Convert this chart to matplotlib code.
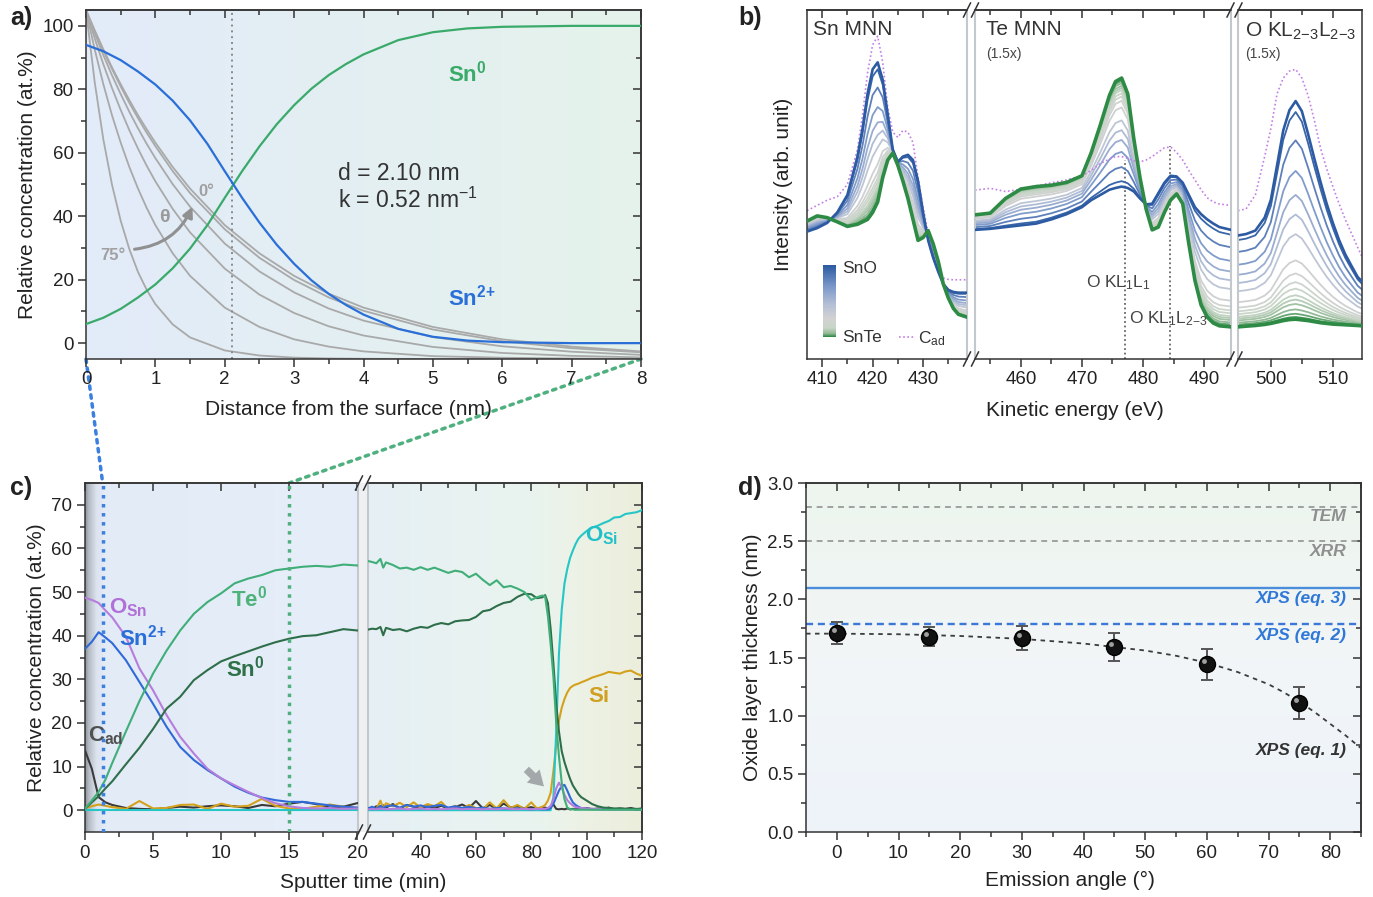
import numpy as np
import matplotlib
matplotlib.use('Agg')
import matplotlib.pyplot as plt
from matplotlib.colors import LinearSegmentedColormap, to_rgb
from matplotlib.patches import ConnectionPatch, Rectangle
from matplotlib.lines import Line2D
from matplotlib import transforms

plt.rcParams['font.family'] = ['Liberation Sans', 'DejaVu Sans']
plt.rcParams['mathtext.fontset'] = 'custom'
plt.rcParams['mathtext.rm'] = 'Liberation Sans'
plt.rcParams['mathtext.it'] = 'Liberation Sans:italic'
plt.rcParams['mathtext.bf'] = 'Liberation Sans:bold'
plt.rcParams['axes.edgecolor'] = '#333333'
plt.rcParams['axes.linewidth'] = 1.1
plt.rcParams['xtick.color'] = '#333333'
plt.rcParams['ytick.color'] = '#333333'
plt.rcParams['xtick.labelcolor'] = '#222222'
plt.rcParams['ytick.labelcolor'] = '#222222'
plt.rcParams['xtick.labelsize'] = 13.5
plt.rcParams['ytick.labelsize'] = 13.5
plt.rcParams['axes.labelsize'] = 15
plt.rcParams['axes.labelcolor'] = '#222222'

# ---------------- panel a: depth profiles ----------------
depth = [0, 0.125, 0.25, 0.375, 0.5, 0.625, 0.75, 0.875, 1, 1.25, 1.5, 2, 2.5, 3, 3.5, 4, 5, 6, 7, 8]
prof_0 = [105, 98.6, 92.6, 86.9, 81.6, 76.6, 71.8, 67.4, 63.2, 55.5, 48.7, 37.2, 28.3, 21.2, 15.6, 11.2, 5.1, 1.2, -1.1, -2.6]
prof_15 = [105, 98.4, 92.2, 86.4, 80.9, 75.7, 70.9, 66.3, 62.1, 54.2, 47.3, 35.9, 26.9, 19.9, 14.4, 10.2, 4.3, 0.6, -1.6, -2.9]
prof_30 = [105, 97.7, 90.8, 84.4, 78.5, 72.9, 67.7, 62.8, 58.3, 50.1, 43.0, 31.4, 22.6, 16.0, 10.9, 7.1, 1.9, -1.0, -2.7, -3.7]
prof_45 = [105, 96.1, 87.9, 80.4, 73.5, 67.1, 61.3, 55.9, 51.0, 42.3, 34.9, 23.5, 15.3, 9.5, 5.3, 2.4, -1.2, -3.1, -4.0, -4.5]
prof_60 = [105, 92.6, 81.6, 71.8, 63.2, 55.5, 48.7, 42.6, 37.2, 28.3, 21.2, 11.2, 5.1, 1.2, -1.1, -2.6, -4.1, -4.6, -4.85, -4.95]
prof_75 = [105, 82.3, 64.2, 49.9, 38.6, 29.6, 22.4, 16.8, 12.3, 5.9, 1.8, -2.3, -3.9, -4.57, -4.83, -4.93, -5.0, -5.0, -5.0, -5.0]

depth_sn = [0, 0.25, 0.5, 0.75, 1, 1.25, 1.5, 1.75, 2, 2.25, 2.5, 2.75, 3, 3.25, 3.5, 3.75, 4, 4.5, 5, 5.5, 6, 7, 8]
sn2_a = [94.0, 92.0, 89.2, 85.6, 81.5, 76.4, 70.2, 62.8, 54.2, 45.8, 38.0, 31.0, 25.0, 19.8, 15.5, 12.0, 9.0, 4.5, 2.0, 0.8, 0.3, 0.0, 0.0]
sn0_a = [6.0, 8.0, 10.8, 14.4, 18.5, 23.6, 29.8, 37.2, 45.8, 54.2, 62.0, 69.0, 75.0, 80.2, 84.5, 88.0, 91.0, 95.5, 98.0, 99.2, 99.7, 100.0, 100.0]
d_oxide = 2.10

# ---------------- panel b: Auger spectra ----------------
e_sn = [407, 409, 411, 413, 415, 417, 418, 419, 420, 421, 422, 423, 424, 425, 426, 427, 428, 429, 430, 431, 432, 433, 434, 435, 436, 437, 438.7]
sno_sn = [36.5, 37.5, 39, 42, 47, 58, 66, 76, 83, 85, 80, 70, 60, 56.5, 58, 58.5, 57, 51, 42, 34, 29, 25, 21.5, 19.8, 19.2, 19, 19]
snte_sn = [39.5, 41, 40.5, 39.3, 38, 38.6, 39.3, 40, 42, 45, 52, 57, 59, 55.5, 51, 46, 40, 34, 34.8, 36.8, 33, 28, 21.5, 17.5, 14.5, 12.8, 12]
cad_sn = [42.5, 44, 45.5, 46.5, 50, 60, 70, 82, 90, 92.5, 85, 72, 65, 63.5, 65.5, 65, 62, 52, 43.5, 36, 30.5, 26, 23.2, 22.8, 22.7, 22.7, 22.7]

e_te = [452.5, 455, 457.5, 460, 462.5, 465, 467.5, 470, 471.5, 473, 474.5, 475.5, 476.5, 477.5, 478.5, 479.5, 480.5, 481.5, 482.5, 483.5, 484.5, 485.5, 486.5, 487.5, 488.5, 489.5, 490.5, 491.5, 492.5, 494.4]
sno_te = [37, 37.3, 37.8, 38.3, 38.8, 40, 41.5, 43.5, 45.5, 47, 48.5, 49, 49.4, 49, 48, 46, 44.3, 44.5, 47.5, 50.5, 52.5, 52.3, 50.5, 47, 43.5, 41.5, 40, 38.8, 37.8, 37]
snte_te = [41.3, 41.8, 46, 48.7, 49.4, 49.8, 50.6, 52.5, 59, 67, 75.5, 79.5, 80.5, 76, 63, 52, 43, 37, 37.8, 42, 45.5, 47.3, 44.5, 33, 22.5, 15.5, 12, 10.3, 9.5, 9.2]
cad_te = [48.4, 48.9, 48, 48.6, 49.6, 50.5, 51.3, 52.5, 54, 56, 57.3, 58, 58, 57.5, 56.8, 56.5, 57, 58, 59.3, 60.5, 60.8, 59.2, 57, 54, 51.3, 48.5, 46.2, 45, 44.4, 44]

e_o = [494.7, 496, 497.5, 499, 500, 501, 502, 503, 504, 505, 506, 507, 508, 509, 510, 511, 512, 513, 514, 514.7]
sno_o = [35.4, 35.8, 36.8, 40.5, 45.6, 55.5, 65.5, 71.3, 73.9, 71, 64.5, 57.5, 50.8, 44.5, 39, 34.1, 30, 26.7, 23.5, 22.2]
snte_o = [9.2, 9.4, 9.6, 9.9, 10.2, 10.6, 11, 11.3, 11.4, 11.2, 11, 10.7, 10.4, 10.2, 10, 9.9, 9.8, 9.7, 9.6, 9.5]
cad_o = [42.5, 43, 47, 58, 66, 76, 80.5, 82.5, 83, 80.5, 75.5, 68.5, 60.5, 54.5, 49.4, 44.5, 40, 36, 32, 29.3]

# SnO fraction of the intermediate spectra (read from the O KLL peak heights)
mix_frac = [0.95, 0.82, 0.68, 0.57, 0.48, 0.39, 0.27, 0.21, 0.17, 0.14, 0.11, 0.09, 0.07, 0.045, 0.025, 0.01]
ol11_energy = 477.1
ol123_energy = 484.4

# ---------------- panel c: sputter depth profile ----------------
t1 = [0, 0.5, 1, 1.5, 2, 3, 4, 5, 6, 7, 8, 9, 10, 11, 12, 13, 14, 15, 16, 17, 18, 19, 20]
te0_1 = [0.3, 2.2, 4.2, 7.0, 10.8, 18.0, 25.0, 31.3, 36.6, 41.2, 45.0, 47.7, 49.7, 52.0, 53.1, 53.9, 55.0, 55.4, 55.8, 56.0, 55.8, 56.3, 56.1]
sn0_1 = [0.3, 1.8, 3.2, 5.0, 6.6, 10.5, 14.3, 18.6, 23.3, 26.0, 29.8, 32.1, 34.1, 35.3, 36.4, 37.5, 38.5, 39.3, 39.9, 40.1, 40.8, 41.5, 41.2]
o_sn_1 = [48.7, 48.2, 47.5, 45.8, 44.2, 39.8, 32.5, 27.5, 21.8, 16.8, 13.0, 9.5, 7.3, 5.7, 4.2, 2.8, 1.6, 0.9, 0.5, 0.4, 0.5, 0.3, 0.4]
sn2_1 = [37.0, 38.6, 40.8, 39.6, 38.3, 34.4, 29.4, 24.4, 19.1, 14.5, 11.5, 9.2, 7.3, 5.4, 4.0, 2.9, 2.3, 1.9, 1.9, 1.5, 1.1, 0.8, 0.6]
cad_1 = [13.7, 9.5, 3.0, 1.8, 1.2, 0.5, 0.3, 0.2, 0.5, 0.8, 0.6, 0.9, 1.1, 0.9, 0.5, 1.2, 0.9, 1.5, 1.9, 1.4, 0.6, 0.8, 1.6]
si_1 = [0.5, 0.9, 1.3, 1.0, 0.7, 0.3, 2.1, 0.4, 0.5, 1.2, 1.3, 0.3, 1.5, 0.8, 1.0, 2.6, 1.0, 0.4, 0.3, 0.8, 1.3, 0.8, 0.5]
o_si_1 = [0.0, 0.0, 0.0, 0.0, 0.0, 0.0, 0.0, 0.0, 0.0, 0.0, 0.0, 0.0, 0.0, 0.0, 0.0, 0.0, 0.0, 0.0, 0.0, 0.0, 0.0, 0.0, 0.0]

t2 = [21, 22.5, 24, 25.5, 26.5, 27.5, 30, 32.5, 35, 37.5, 40, 42.5, 45, 47.5, 50, 52.5, 55, 57.5, 60, 62.5,
      65, 67.5, 70, 72.5, 75, 77.5, 80, 82, 84, 85, 86, 87, 88, 89, 90, 91, 92, 93, 94, 95,
      96, 97, 98, 100, 102, 104, 106, 108, 110, 112, 114, 116, 118, 120]
te0_2 = [57.1, 56.9, 56.6, 57.6, 55.6, 56.8, 56.2, 55.4, 55.6, 55.1, 55.7, 55.1, 55.6, 55.0, 54.4, 54.9, 54.6, 53.4, 54.2, 52.8,
         51.6, 52.7, 51.1, 51.4, 50.8, 50.0, 48.2, 48.8, 49.2, 49.0, 44.5, 38.0, 30.5, 20.0, 12.3, 6.3, 2.5, 0.6, 0.2, 0.2,
         0.1, 0.1, 0.1, 0.1, 0.1, 0.1, 0.1, 0.1, 0.1, 0.1, 0.1, 0.1, 0.1, 0.1]
sn0_2 = [41.4, 41.6, 41.5, 42.0, 40.1, 41.8, 41.3, 41.5, 41.0, 41.6, 42.0, 41.8, 42.5, 42.9, 42.6, 43.3, 43.5, 43.6, 44.3, 45.6,
         45.9, 46.8, 47.5, 47.8, 48.9, 49.6, 49.5, 48.6, 48.8, 49.3, 47.5, 41.5, 33.5, 24.4, 18.0, 13.5, 11.0, 9.0, 7.2, 5.7,
         4.7, 3.7, 3.0, 2.2, 1.4, 0.9, 0.6, 0.5, 0.4, 0.4, 0.3, 0.3, 0.3, 0.3]
o_si_2 = [0.0, 0.0, 0.0, 0.0, 0.0, 0.0, 0.0, 0.0, 0.0, 0.0, 0.0, 0.0, 0.0, 0.0, 0.0, 0.0, 0.0, 0.0, 0.0, 0.0,
          0.0, 0.0, 0.0, 0.0, 0.0, 0.0, 0.0, 0.0, 0.0, 0.0, 0.0, 0.0, 3.0, 18.0, 36.0, 46.0, 52.0, 55.3, 57.8, 59.5,
          61.0, 62.2, 62.9, 64.0, 64.8, 65.2, 65.8, 66.3, 67.1, 67.2, 67.9, 68.1, 68.3, 68.8]
si_2 = [0.3, 0.5, 0.2, 2.2, 0.4, 1.6, 0.9, 1.7, 0.7, 1.8, 0.6, 1.4, 0.9, 1.9, 0.2, 1.0, 0.3, 1.2, 0.5, 0.2,
        1.8, 0.4, 2.3, 0.5, 1.2, 0.3, 1.8, 0.4, 0.8, 1.2, 2.2, 4.0, 9.0, 15.0, 20.5, 23.5, 25.5, 27.0, 28.0, 28.5,
        28.8, 29.0, 29.3, 29.8, 30.4, 30.8, 31.2, 31.7, 31.5, 31.3, 31.8, 32.0, 31.3, 30.8]
o_sn_2 = [0.2, 0.3, 0.2, 0.4, 0.3, 0.2, 0.3, 0.4, 0.2, 0.3, 0.4, 0.2, 0.3, 0.2, 0.3, 0.4, 0.2, 0.3, 0.3, 0.2,
          0.3, 0.2, 0.4, 0.3, 0.2, 0.3, 0.2, 0.3, 0.3, 0.3, 0.5, 1.0, 2.5, 5.0, 6.3, 5.2, 3.5, 2.3, 1.6, 1.1,
          0.7, 0.6, 0.5, 0.4, 0.3, 0.3, 0.2, 0.2, 0.2, 0.2, 0.2, 0.2, 0.2, 0.2]
sn2_2 = [0.4, 0.8, 0.3, 1.0, 0.5, 0.9, 1.1, 0.6, 1.2, 0.8, 1.1, 0.7, 1.0, 1.2, 0.6, 0.9, 0.5, 0.8, 0.4, 0.6,
         0.3, 0.5, 0.4, 0.3, 0.4, 0.3, 0.2, 0.3, 0.2, 0.2, 0.2, 0.5, 1.5, 3.0, 4.5, 5.5, 5.8, 4.5, 3.0, 1.8,
         1.2, 0.8, 0.5, 0.3, 0.3, 0.2, 0.2, 0.2, 0.2, 0.2, 0.2, 0.2, 0.2, 0.2]
cad_2 = [0.5, 0.2, 0.9, 0.3, 1.1, 0.6, 1.4, 0.4, 1.2, 0.8, 0.3, 0.9, 0.5, 1.0, 0.4, 0.7, 1.3, 0.5, 2.1, 0.4,
         1.2, 0.3, 1.5, 0.6, 0.9, 0.4, 0.7, 0.3, 0.5, 0.6, 0.4, 0.8, 1.3, 0.3, 0.2, 0.3, 0.2, 0.4, 0.2, 0.3,
         0.2, 0.4, 0.3, 0.5, 0.2, 0.4, 0.3, 0.6, 0.2, 0.4, 0.3, 0.5, 0.2, 0.4]
t_surface = 1.3
t_interface = 15

# ---------------- panel d: oxide thickness vs angle ----------------
angles = [0, 15, 30, 45, 60, 75]
thick = [1.71, 1.68, 1.67, 1.59, 1.44, 1.11]
thick_err = [0.095, 0.08, 0.105, 0.117, 0.135, 0.136]
fit_angle = [-5, 0, 10, 20, 30, 40, 50, 55, 60, 65, 70, 72.5, 75, 77.5, 80, 82.5, 85]
fit_thick = [1.705, 1.705, 1.70, 1.685, 1.66, 1.62, 1.56, 1.515, 1.455, 1.375, 1.27, 1.2, 1.12, 1.03, 0.93, 0.83, 0.72]
tem_d = 2.79
xrr_d = 2.50
xps3_d = 2.10
xps2_d = 1.79

# ---------------- figure ----------------
W, H = 1373, 897
fig = plt.figure(figsize=(W / 100, H / 100), dpi=100)


def box(l, t, r, b):
    return [l / W, 1 - b / H, (r - l) / W, (b - t) / H]


def gradient(ax, stops, vertical=False):
    pos = np.linspace(0, 1, 256)
    ps = [p for p, _ in stops]
    cols = np.array([to_rgb(c) for _, c in stops])
    rgb = np.stack([np.interp(pos, ps, cols[:, i]) for i in range(3)], axis=-1)
    img = rgb[:, np.newaxis, :] if vertical else rgb[np.newaxis, :, :]
    ax.imshow(img, extent=[0, 1, 0, 1], transform=ax.transAxes, aspect='auto',
              zorder=0, interpolation='bilinear')


def ticks(ax, xmaj, xmin, ymaj=None, ymin=None, top=True, right=True, left=True):
    ax.set_xticks(xmaj)
    ax.set_xticks(xmin, minor=True)
    if ymaj is None:
        ax.set_yticks([])
    else:
        ax.set_yticks(ymaj)
        ax.set_yticks(ymin, minor=True)
    ax.tick_params(which='both', direction='out', top=False, right=False,
                   left=left, labelleft=left)
    ax.tick_params(which='major', length=5.5, width=1.1)
    ax.tick_params(which='minor', length=3.5, width=1.1)
    if top:
        sx = ax.secondary_xaxis('top')
        sx.set_ticks(xmaj)
        sx.set_ticks(xmin, minor=True)
        sx.tick_params(which='both', direction='in', labeltop=False, labelbottom=False)
        sx.tick_params(which='major', length=5.5, width=1.1)
        sx.tick_params(which='minor', length=3.5, width=1.1)
    if right and ymaj is not None:
        sy = ax.secondary_yaxis('right')
        sy.set_ticks(ymaj)
        sy.set_ticks(ymin, minor=True)
        sy.tick_params(which='both', direction='in', labelright=False, labelleft=False)
        sy.tick_params(which='major', length=5.5, width=1.1)
        sy.tick_params(which='minor', length=3.5, width=1.1)


def fig_line(xs, ys, **kw):
    fig.add_artist(Line2D([x / W for x in xs], [1 - y / H for y in ys],
                          transform=fig.transFigure, **kw))


def break_marks(xc, y):
    for dx in (-4, 4):
        fig_line([xc + dx - 3.5, xc + dx + 3.5], [y + 7, y - 7], color='#333333', lw=1.1)


GAP = '#c3c8cc'

# ======== panel a ========
ax_a = fig.add_axes(box(86, 10, 641, 359))
gradient(ax_a, [(0, '#e2ebf9'), (1, '#e5f3eb')])
for prof in [prof_75, prof_60, prof_45, prof_30, prof_15, prof_0]:
    ax_a.plot(depth, prof, color='#a9a9a9', lw=1.3, zorder=2)
ax_a.axvline(d_oxide, color='#8a8a8a', lw=1.4, ls=(0, (1, 2)), zorder=2)
ax_a.plot(depth_sn, sn0_a, color='#3aaa6a', lw=1.6, zorder=3)
ax_a.plot(depth_sn, sn2_a, color='#2a6fd8', lw=1.6, zorder=3)
ax_a.set_xlim(0, 8)
ax_a.set_ylim(-5, 105)
ticks(ax_a, list(range(0, 9)), [0.5 + i for i in range(8)],
      [0, 20, 40, 60, 80, 100], [10, 30, 50, 70, 90])
ax_a.set_xlabel('Distance from the surface (nm)')
ax_a.xaxis.set_label_coords(0.472, -0.118)
ax_a.set_ylabel('Relative concentration (at.%)')
ax_a.text(5.22, 85, r'$\mathbf{Sn^{0}}$', color='#3aaa6a', fontsize=16, va='center')
ax_a.text(5.22, 14.5, r'$\mathbf{Sn^{2{+}}}$', color='#2a6fd8', fontsize=16, va='center')
ax_a.text(3.63, 53.5, 'd = 2.10 nm', fontsize=16.5, color='#333333', va='center')
ax_a.text(3.63, 45, r'k = 0.52 nm$^{{-}1}$', fontsize=16.5, color='#333333', va='center')
ax_a.text(0.2, 27.5, '75°', fontsize=12, color='#a0a0a0', fontweight='bold', va='center')
ax_a.text(1.62, 47.8, '0°', fontsize=12, color='#a0a0a0', fontweight='bold', va='center')
ax_a.text(1.05, 39.5, 'θ', fontsize=14, color='#9a9a9a', fontweight='bold', va='center')
ax_a.annotate('', xy=(1.55, 43.8), xytext=(0.66, 29.5),
              arrowprops=dict(arrowstyle='-|>', color='#909090', lw=2.2,
                              connectionstyle='arc3,rad=0.3', mutation_scale=15))

# ======== panel b ========
b_cmap = LinearSegmentedColormap.from_list('snte_sno', [
    (0.0, '#2e8b45'), (0.04, '#8fb894'), (0.12, '#c8d6c8'), (0.25, '#d2d2d2'),
    (0.45, '#b5c0d6'), (0.7, '#7c99ca'), (1.0, '#2d5ba3')])

b_boxes = [box(807, 10, 967, 359), box(975, 10, 1231, 359), box(1238, 10, 1362, 359)]
b_lims = [(407, 438.7), (452.5, 494.4), (494.7, 514.7)]
b_data = [(e_sn, sno_sn, snte_sn, cad_sn), (e_te, sno_te, snte_te, cad_te), (e_o, sno_o, snte_o, cad_o)]
b_majors = [[410, 420, 430], [460, 470, 480, 490], [500, 510]]
b_minors = [[415, 425, 435], [455, 465, 475, 485], [505]]
b_axes = []
for i in range(3):
    ax = fig.add_axes(b_boxes[i])
    e, sno, snte, cad = b_data[i]
    sno = np.array(sno)
    snte = np.array(snte)
    for f in mix_frac[::-1]:
        ax.plot(e, f * sno + (1 - f) * snte, color=b_cmap(f), lw=1.3, zorder=2)
    ax.plot(e, cad, color='#c27fe6', lw=1.2, ls=(0, (1, 1.5)), zorder=2)
    ax.plot(e, sno, color=b_cmap(1.0), lw=1.9, zorder=3)
    ax.plot(e, snte, color=b_cmap(0.0), lw=2.6, zorder=4)
    ax.set_xlim(*b_lims[i])
    ax.set_ylim(0, 100)
    ticks(ax, b_majors[i], b_minors[i], top=True, right=False)
    if i > 0:
        ax.spines['left'].set_color(GAP)
        ax.spines['left'].set_linewidth(1.5)
    if i < 2:
        ax.spines['right'].set_color(GAP)
        ax.spines['right'].set_linewidth(1.5)
    b_axes.append(ax)
ax_sn, ax_te, ax_o = b_axes
ax_sn.set_ylabel('Intensity (arb. unit)', labelpad=10)
fig.text(1075 / W, 1 - 410 / H, 'Kinetic energy (eV)', fontsize=15, ha='center', va='center', color='#222222')
for xc in (971, 1234.5):
    break_marks(xc, 10)
    break_marks(xc, 359)

ax_sn.text(408.2, 97, 'Sn MNN', fontsize=15, va='top', color='#333333')
ax_te.text(454.3, 97, 'Te MNN', fontsize=15, va='top', color='#333333')
ax_te.text(454.3, 89.5, '(1.5x)', fontsize=10, va='top', color='#444444')
ax_o.text(495.8, 97, r'O KL$_{2{-}3}$L$_{2{-}3}$', fontsize=15, va='top', color='#333333')
ax_o.text(495.8, 89.5, '(1.5x)', fontsize=10, va='top', color='#444444')

ax_te.plot([ol11_energy, ol11_energy], [0, 57], color='#666666', lw=1.3, ls=(0, (1, 1.5)), zorder=1)
ax_te.plot([ol123_energy, ol123_energy], [0, 61], color='#666666', lw=1.3, ls=(0, (1, 1.5)), zorder=1)
ax_te.text(476.0, 22, r'O KL$_1$L$_1$', fontsize=12.5, ha='center', va='center', color='#444444', zorder=5)
ax_te.text(484.2, 11.5, r'O KL$_1$L$_{2{-}3}$', fontsize=12.5, ha='center', va='center', color='#444444', zorder=5)

# colour bar legend
ax_leg = fig.add_axes(box(823, 265, 836, 337))
ax_leg.imshow(np.linspace(1, 0, 100)[:, np.newaxis], cmap=b_cmap, aspect='auto')
ax_leg.axis('off')
ax_sn.text(413.9, 26, 'SnO', fontsize=12.5, va='center', color='#333333')
ax_sn.text(413.9, 6.3, 'SnTe', fontsize=12.5, va='center', color='#333333')
ax_sn.plot([425.2, 428.2], [6.3, 6.3], color='#c27fe6', lw=1.2, ls=(0, (1, 1.5)))
ax_sn.text(429, 5.8, r'C$_{\rm ad}$', fontsize=12.5, va='center', color='#333333')

# ======== panel c ========
fig.add_artist(Rectangle((358 / W, 1 - 832 / H), 10 / W, 349 / H, transform=fig.transFigure,
                         facecolor='#eef0f2', edgecolor='none', zorder=0))
ax_c1 = fig.add_axes(box(85, 483, 358, 832))
ax_c2 = fig.add_axes(box(368, 483, 642, 832))
gradient(ax_c1, [(0, '#8f959d'), (0.012, '#b5bbc4'), (0.04, '#dce3ee'), (0.07, '#e3ebf7'), (1, '#e6eef9')])
gradient(ax_c2, [(0, '#e6f0f5'), (0.6, '#e9f4ef'), (0.76, '#edf2e6'), (1, '#eceedc')])
c_series = [
    (cad_1, cad_2, '#3a3a3a'),
    (si_1, si_2, '#d4a11c'),
    (o_si_1, o_si_2, '#26c6c6'),
    (sn2_1, sn2_2, '#2f6ad8'),
    (o_sn_1, o_sn_2, '#b57ddc'),
    (sn0_1, sn0_2, '#2f6e4a'),
    (te0_1, te0_2, '#3fae78'),
]
for y1, y2, col in c_series:
    ax_c1.plot(t1, y1, color=col, lw=1.5, zorder=3)
    ax_c2.plot(t2, y2, color=col, lw=1.5, zorder=3)
ax_c1.axvline(t_surface, color='#3b7fe0', lw=2.5, ls=(0, (1, 1.6)), zorder=4)
ax_c1.axvline(t_interface, color='#4fb07f', lw=2.5, ls=(0, (1, 1.6)), zorder=4)
ax_c1.set_xlim(0, 20.07)
ax_c2.set_xlim(21, 120)
for ax in (ax_c1, ax_c2):
    ax.set_ylim(-5, 75)
ticks(ax_c1, [0, 5, 10, 15, 20], [2.5, 7.5, 12.5, 17.5],
      [0, 10, 20, 30, 40, 50, 60, 70], [5, 15, 25, 35, 45, 55, 65], right=False)
ticks(ax_c2, [40, 60, 80, 100, 120], [30, 50, 70, 90, 110],
      [0, 10, 20, 30, 40, 50, 60, 70], [5, 15, 25, 35, 45, 55, 65], left=False)
ax_c1.spines['right'].set_color(GAP)
ax_c1.spines['right'].set_linewidth(1.5)
ax_c2.spines['left'].set_color(GAP)
ax_c2.spines['left'].set_linewidth(1.5)
ax_c1.set_ylabel('Relative concentration (at.%)')
fig.text(363 / W, 1 - 882 / H, 'Sputter time (min)', fontsize=15, ha='center', va='center', color='#222222')
break_marks(363, 483)
break_marks(363, 832)

ax_c1.text(1.75, 46.5, r'$\mathbf{O_{Sn}}$', color='#b070d8', fontsize=16, va='center')
ax_c1.text(2.5, 39.5, r'$\mathbf{Sn^{2{+}}}$', color='#2a6fd8', fontsize=16, va='center')
ax_c1.text(10.7, 48.5, r'$\mathbf{Te^{0}}$', color='#4db37a', fontsize=16, va='center')
ax_c1.text(10.4, 32.5, r'$\mathbf{Sn^{0}}$', color='#2e7048', fontsize=16, va='center')
ax_c1.text(0.2, 17, r'$\mathbf{C_{ad}}$', color='#505050', fontsize=16, va='center')
ax_c2.text(99.5, 63, r'$\mathbf{O_{Si}}$', color='#20c0c8', fontsize=16, va='center')
ax_c2.text(100.5, 26, r'$\mathbf{Si}$', color='#d0a020', fontsize=16, va='center')
ax_c2.annotate('', xy=(85.3, 5.0), xytext=(77.5, 9.8),
               arrowprops=dict(arrowstyle='simple,head_width=1.1,head_length=0.9,tail_width=0.45',
                               fc='#a3a8aa', ec='none', mutation_scale=12))

# connection lines from panel a to panel c
fig.add_artist(ConnectionPatch(xyA=(0, -5), coordsA=ax_a.transData, xyB=(t_surface, 75),
                               coordsB=ax_c1.transData, color='#3b7fe0', lw=2.5, ls=(0, (1, 1.6)),
                               zorder=-1))
fig.add_artist(ConnectionPatch(xyA=(8, -5), coordsA=ax_a.transData, xyB=(t_interface, 75),
                               coordsB=ax_c1.transData, color='#4fb07f', lw=2.5, ls=(0, (1, 1.6)),
                               zorder=-1))

# ======== panel d ========
ax_d = fig.add_axes(box(806, 483, 1361, 832))
gradient(ax_d, [(0, '#edf5ee'), (0.5, '#f2f6f7'), (1, '#eef3fa')], vertical=True)
ax_d.axhline(tem_d, color='#a0a0a0', lw=1.4, ls=(0, (3, 2.5)), zorder=2)
ax_d.axhline(xrr_d, color='#a0a0a0', lw=1.4, ls=(0, (3, 2.5)), zorder=2)
ax_d.axhline(xps3_d, color='#4a8edb', lw=1.7, zorder=2)
ax_d.axhline(xps2_d, color='#3b78d8', lw=1.7, ls=(0, (3, 2)), zorder=2)
ax_d.plot(fit_angle, fit_thick, color='#3c3c3c', lw=1.3, ls=(0, (2.5, 2.5)), zorder=3)
ax_d.errorbar(angles, thick, yerr=thick_err, fmt='none', ecolor='#555555', elinewidth=1.4,
              capsize=4, capthick=1.4, zorder=4)
ax_d.plot(angles, thick, 'o', ms=11.5, mfc='#111111', mec='#000000', zorder=5)
shine = transforms.offset_copy(ax_d.transData, fig=fig, x=-2.2, y=2.2, units='points')
ax_d.plot(angles, thick, 'o', ms=3.5, mfc='#a0a0a0', mec='none', transform=shine, zorder=6)
ax_d.set_xlim(-5, 85)
ax_d.set_ylim(0, 3)
ticks(ax_d, [0, 10, 20, 30, 40, 50, 60, 70, 80], [-5, 5, 15, 25, 35, 45, 55, 65, 75, 85],
      [0, 0.5, 1.0, 1.5, 2.0, 2.5, 3.0], [0.25, 0.75, 1.25, 1.75, 2.25, 2.75])
ax_d.set_yticklabels(['0.0', '0.5', '1.0', '1.5', '2.0', '2.5', '3.0'])
ax_d.set_xlabel('Emission angle (°)')
ax_d.xaxis.set_label_coords(0.476, -0.112)
ax_d.set_ylabel('Oxide layer thickness (nm)')
lab = dict(fontsize=12.5, fontweight='bold', fontstyle='italic', ha='right', va='center', zorder=6)
ax_d.text(82.6, 2.71, 'TEM', color='#8f8f8f', **lab)
ax_d.text(82.6, 2.41, 'XRR', color='#8f8f8f', **lab)
ax_d.text(82.6, 2.01, 'XPS (eq. 3)', color='#2f78d8', **lab)
ax_d.text(82.6, 1.69, 'XPS (eq. 2)', color='#2f78d8', **lab)
ax_d.text(82.6, 0.70, 'XPS (eq. 1)', color='#333333', **lab)

# panel letters
for txt, x, y in [('a)', 10, 18), ('b)', 738, 18), ('c)', 10, 488), ('d)', 738, 488)]:
    fig.text(x / W, 1 - y / H, txt, fontsize=18, fontweight='bold', va='center', ha='left', color='#222222')

fig.savefig('out.png', dpi=100)
